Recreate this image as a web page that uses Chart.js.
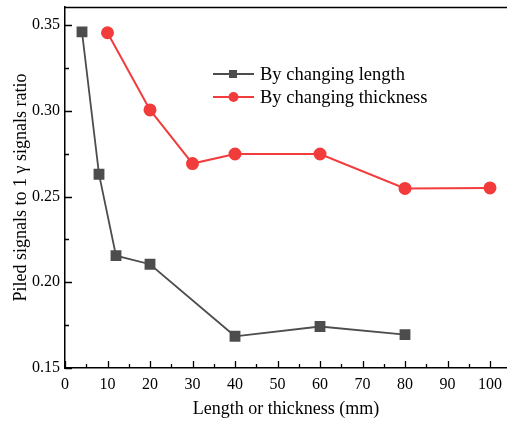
<!DOCTYPE html>
<html>
<head>
<meta charset="utf-8">
<script src="https://cdn.jsdelivr.net/npm/chart.js@4.4.1/dist/chart.umd.min.js"></script>
<style>
  html, body { margin: 0; padding: 0; background: #fff; overflow: hidden; }
  #wrap { width: 507px; height: 423px; position: relative; }
  #chart { display: block; }
</style>
</head>
<body>
<div id="wrap"><canvas id="chart"></canvas></div>
<script>
const lengthX = [4, 8, 12, 20, 40, 60, 80];
const lengthY = [0.346, 0.263, 0.2155, 0.2105, 0.1685, 0.1742, 0.1695];
const thickX = [10, 20, 30, 40, 60, 80, 100];
const thickY = [0.3455, 0.3005, 0.2692, 0.2748, 0.2748, 0.2547, 0.2550];
const seriesNames = ['By changing length', 'By changing thickness'];
const xTickValues = [0, 10, 20, 30, 40, 50, 60, 70, 80, 90, 100];
const yTickValues = [0.15, 0.20, 0.25, 0.30, 0.35];

const GRAY = '#4d4d4d';
const RED = '#f23c3c';
const FONT = 'Liberation Serif';

// inward ticks, top frame line and the legend
const decorPlugin = {
    id: 'decor',
    afterDraw(chart) {
        const ctx = chart.ctx;
        const area = chart.chartArea;
        const xs = chart.scales.x, ys = chart.scales.y;
        ctx.save();
        ctx.strokeStyle = '#000';
        ctx.lineWidth = 1.3;
        ctx.beginPath();
        ctx.moveTo(area.left, area.top + 0.5);
        ctx.lineTo(area.right, area.top + 0.5);
        for (let v = 0; v <= 100; v += 5) {
            const px = Math.round(xs.getPixelForValue(v)) + 0.5;
            const len = v % 10 === 0 ? 7 : 4;
            ctx.moveTo(px, area.bottom);
            ctx.lineTo(px, area.bottom - len);
        }
        for (let i = 0; i <= 8; i++) {
            const v = 0.15 + i * 0.025;
            const py = Math.round(ys.getPixelForValue(v)) + 0.5;
            const len = i % 2 === 0 ? 7 : 4;
            ctx.moveTo(area.left, py);
            ctx.lineTo(area.left + len, py);
        }
        ctx.stroke();

        // legend
        const items = [
            { ds: chart.data.datasets[0], y: 74 },
            { ds: chart.data.datasets[1], y: 97 }
        ];
        items.forEach(it => {
            const ds = it.ds;
            ctx.strokeStyle = ds.borderColor;
            ctx.lineWidth = ds.borderWidth;
            ctx.beginPath();
            ctx.moveTo(213, it.y);
            ctx.lineTo(254, it.y);
            ctx.stroke();
            ctx.fillStyle = ds.pointBackgroundColor;
            if (ds.pointStyle === 'rect') {
                ctx.fillRect(229, it.y - 4, 8, 8);
            } else {
                ctx.beginPath();
                ctx.arc(233.5, it.y, 5, 0, Math.PI * 2);
                ctx.fill();
            }
            ctx.fillStyle = '#000';
            ctx.font = '18.5px "' + FONT + '"';
            ctx.textBaseline = 'middle';
            ctx.textAlign = 'left';
            ctx.fillText(ds.label, 260, it.y + 1);
        });
        ctx.restore();
    }
};

new Chart(document.getElementById('chart'), {
    type: 'line',
    data: {
        datasets: [{
            label: seriesNames[0],
            data: lengthX.map((x, i) => ({ x: x, y: lengthY[i] })),
            borderColor: GRAY,
            backgroundColor: GRAY,
            pointBackgroundColor: GRAY,
            pointBorderColor: GRAY,
            pointStyle: 'rect',
            pointRadius: 6.4,
            borderWidth: 1.8,
            tension: 0,
            clip: false
        }, {
            label: seriesNames[1],
            data: thickX.map((x, i) => ({ x: x, y: thickY[i] })),
            borderColor: RED,
            backgroundColor: RED,
            pointBackgroundColor: RED,
            pointBorderColor: RED,
            pointStyle: 'circle',
            pointRadius: 5.5,
            borderWidth: 2,
            tension: 0,
            clip: false
        }]
    },
    options: {
        responsive: true,
        maintainAspectRatio: false,
        animation: false,
        layout: { autoPadding: false, padding: { top: 7, right: 0, left: 0, bottom: 0 } },
        plugins: {
            legend: { display: false },
            tooltip: { enabled: false }
        },
        scales: {
            x: {
                type: 'linear',
                min: 0,
                max: 104,
                afterBuildTicks: s => { s.ticks = xTickValues.map(v => ({ value: v })); },
                afterFit: s => { s.height = 55; s.paddingLeft = 0; s.paddingRight = 0; },
                grid: { display: false, drawTicks: false },
                border: { display: true, color: '#000', width: 1.5 },
                ticks: {
                    color: '#000',
                    padding: 7,
                    maxRotation: 0,
                    font: { family: FONT, size: 16 }
                },
                title: {
                    display: true,
                    text: 'Length or thickness (mm)',
                    color: '#000',
                    font: { family: FONT, size: 18 },
                    padding: { top: 0, bottom: 3 }
                }
            },
            y: {
                type: 'linear',
                min: 0.15,
                max: 0.3605,
                afterBuildTicks: s => { s.ticks = yTickValues.map(v => ({ value: v })); },
                afterFit: s => { s.width = 65; s.paddingTop = 0; s.paddingBottom = 0; },
                grid: { display: false, drawTicks: false },
                border: { display: true, color: '#000', width: 1.5 },
                ticks: {
                    color: '#000',
                    padding: 5,
                    font: { family: FONT, size: 16 },
                    callback: v => v.toFixed(2)
                },
                title: {
                    display: true,
                    text: 'Piled signals to 1 γ signals ratio',
                    color: '#000',
                    font: { family: FONT, size: 18 },
                    padding: { top: 10, bottom: 0 }
                }
            }
        }
    },
    plugins: [decorPlugin]
});
</script>
</body>
</html>
